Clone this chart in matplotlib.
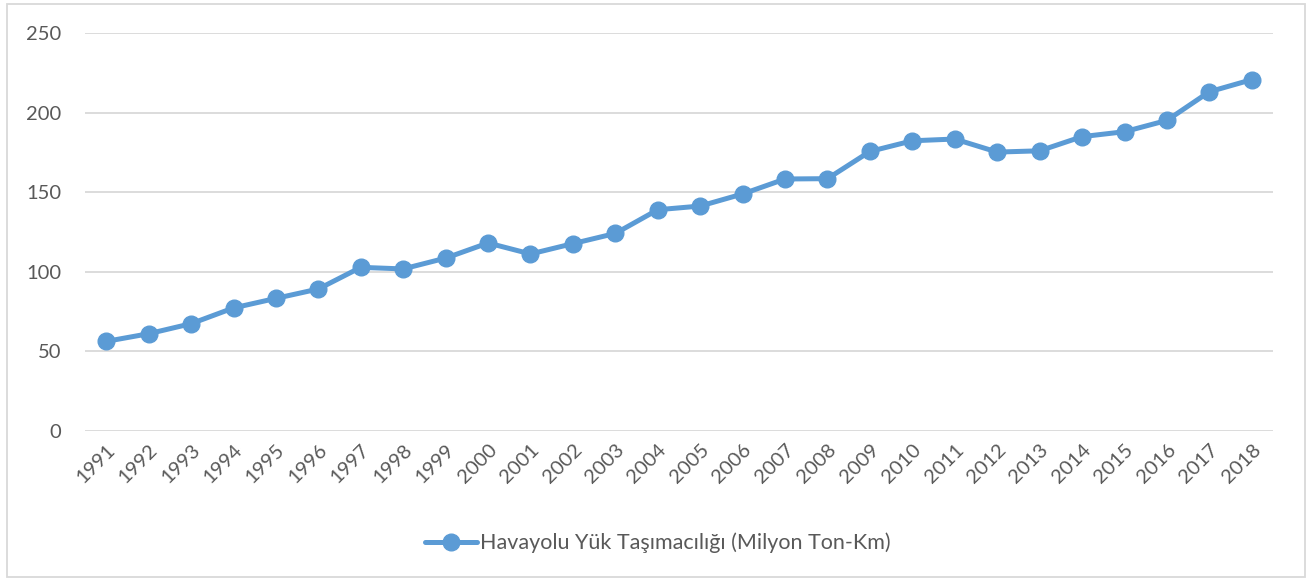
import numpy as np
import matplotlib.pyplot as plt
from matplotlib.patches import Rectangle

# veriler
years = [str(y) for y in range(1991, 2019)]
yuk = [56.3, 61.1, 67.4, 77.3, 83.3, 89.2, 102.8, 101.8, 108.6, 118.1,
       111.2, 117.7, 124.1, 139.0, 141.3, 148.9, 158.3, 158.5, 175.6, 182.3,
       183.4, 175.2, 176.0, 184.9, 188.0, 195.1, 213.1, 220.7]
seri_adi = 'Havayolu Yük Taşımacılığı (Milyon Ton-Km)'
yticks = [0, 50, 100, 150, 200, 250]

plt.rcParams['font.family'] = ['Lato', 'DejaVu Sans']
text_color = '#595959'
line_color = '#5B9BD5'

fig = plt.figure(figsize=(13.14, 5.81), dpi=100)
ax = fig.add_axes([85 / 1314, 1 - 431 / 581, (1273 - 85) / 1314, (431 - 33) / 581])

x = np.arange(len(years))
ax.plot(x, yuk, color=line_color, linewidth=3.6, marker='o', markersize=12,
        label=seri_adi, solid_capstyle='round')

ax.set_xlim(-0.5, len(years) - 0.5)
ax.set_ylim(0, 250)
ax.set_yticks(yticks)
ax.set_xticks(x)
ax.set_xticklabels(years, rotation=45, ha='right', rotation_mode='anchor')
ax.tick_params(axis='both', length=0, labelsize=14.5, colors=text_color)
ax.tick_params(axis='y', pad=17)
ax.tick_params(axis='x', pad=7)
ax.grid(axis='y', color='#D9D9D9', linewidth=1.3)
ax.set_axisbelow(True)
for s in ax.spines.values():
    s.set_visible(False)

leg = fig.legend(loc='center', bbox_to_anchor=(658 / 1314, 1 - 543 / 581), frameon=False,
                 fontsize=15.5, handlelength=2.4, handletextpad=0.15)
for t in leg.get_texts():
    t.set_color(text_color)

fig.patches.append(Rectangle((7 / 1314, 1 - 577 / 581), 1298 / 1314, 573 / 581,
                             transform=fig.transFigure, fill=False,
                             edgecolor='#D9D9D9', linewidth=1.3))

fig.savefig('out.png', dpi=100)
